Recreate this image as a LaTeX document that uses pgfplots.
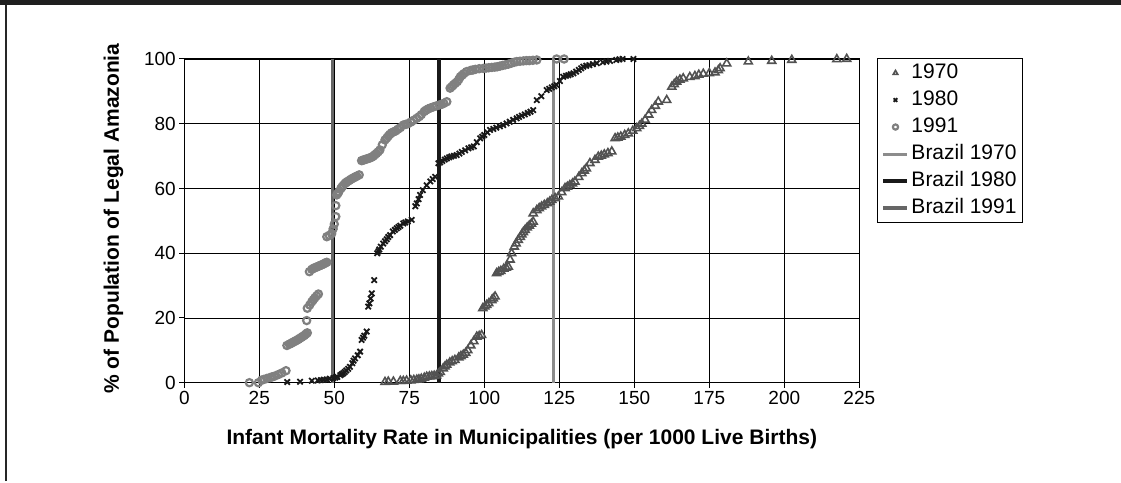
\documentclass[border=0pt]{standalone}
\usepackage{pgfplots}
\usepackage{pgfplotstable}
\pgfplotsset{compat=1.18}
\usepackage{fontspec}
\setmainfont{Liberation Sans}
\pgfplotsset{
  markleg/.style={legend image code/.code={\draw[##1] plot coordinates {(12pt,0pt)};}},
  lineleg/.style={legend image code/.code={\draw[##1] (0pt,0pt) -- (24pt,0pt);}},
}

\pgfplotstableread{
x y
66.9 0.2
68 0.3
69.7 0.3
72 0.5
73 0.5
74.1 0.6
75.5 0.7
76.5 0.8
77.5 0.9
78.2 1.0
79 1.2
80 1.5
80.8 1.8
81.7 1.9
82.5 2.0
83.3 2.1
84.1 2.2
84.7 2.8
85.3 3.3
86.3 4.4
86.9 5.0
87.5 5.5
88.5 6.2
89.3 6.6
90.2 7.0
91.5 7.8
92.2 8.2
93 8.6
93.8 9.2
94.5 10
95.5 11.5
96.5 12.8
97.5 14.2
98.3 14.4
99.1 14.7
99.5 23
100.2 23.5
100.8 24
101.5 24.5
102.5 25.5
103 26
103.6 26.6
104.1 33.8
104.8 34.2
105.5 34.5
106.5 35.2
107.3 35.5
108 35.8
108.6 38
109.1 40
110 42
110.6 43
111.3 44.1
112 45
112.5 45.8
113 46.5
113.6 47.2
114.3 47.9
115 48.5
115.7 49.1
116.3 49.7
116.3 52.3
117.5 53.3
118.3 53.9
119.1 54.4
120 54.9
121 55.4
121.8 55.9
122.5 56.4
123.6 57
124.7 57.5
125.8 58.8
126.9 60.1
127.7 60.5
128.5 61
129.4 61.5
130.2 62.1
131.5 63.5
132.5 64.7
133.3 65.5
134 66.2
135.2 67.8
136.9 68.8
138 69.8
139 70.1
140 70.5
141.2 70.9
142.5 71.4
143.6 75.5
144.5 75.7
145.5 76
146.8 76.5
148 77
149.5 77.8
150.8 78.6
151.7 79.3
152.5 80
153.6 81.2
154.8 82.8
155.8 84.2
157 85.5
158 86.8
160.8 87.3
162.5 91.4
163.3 92.2
164.1 93
165.2 93.6
166.3 94
168.5 94.4
170.2 94.7
171.5 95.1
173 95.4
175 95.6
176.9 95.8
178 96.5
178.6 97.1
180.8 98.6
188 99.2
195.8 99.4
202.5 99.7
217.5 99.9
220.8 100
}\dataA

\pgfplotstableread{
x y
34.3 0.2
38.6 0.3
42.5 0.6
44.5 0.7
45.5 0.8
46.5 0.9
47.5 1.0
48.5 1.2
49.7 1.4
50.4 1.6
51 1.8
52 2.3
52.5 2.6
53 2.9
53.5 3.3
54 3.8
54.6 4.3
55.2 4.9
56 6.0
56.4 6.8
56.9 7.5
57.8 8.5
58.6 9.6
59.1 13.2
59.6 13.9
60 14.5
60.8 15.8
61.3 23.5
61.7 24.5
62.1 26
62.5 27.6
63.3 31.7
64.3 40
64.7 40.6
65 41.2
65.5 42
66.3 43
66.9 43.7
67.5 44.3
68 45
68.6 45.6
69.5 46.7
70.2 47.2
70.8 47.7
71.4 48.1
72 48.5
73 49.2
73.7 49.5
74.5 49.8
75.8 50.3
77 54.5
77.5 55.4
78.1 56.7
78.6 58
79.5 59.5
80.8 61
82 62.2
82.8 62.9
83.6 63.6
84.7 67.8
85.3 68.1
86 68.5
86.8 68.9
87.5 69.3
88.3 69.6
89 69.9
89.9 70.1
90.8 70.3
91.7 70.8
92.5 71.3
93.6 71.8
94.7 72.4
95.6 72.7
96.5 73
97.5 74.3
98.6 75.5
99.3 76
100 76.5
101 77.3
101.9 78.1
103 78.4
104 78.8
105.2 79.2
106.3 79.6
107.4 80.1
108.5 80.6
109.6 81.2
110.8 81.7
111.6 82.1
112.5 82.5
113.5 82.9
114.5 83.3
115.4 83.7
116.3 84.2
117.5 87.3
119 88.5
120.8 90.4
121.6 90.8
122.5 91.2
123.3 91.6
124.1 92
125.2 93.2
126.3 94.5
127.2 94.8
128 95
128.8 95.3
129.7 95.6
130.6 96.1
131.5 96.6
132.3 97.1
133 97.6
134 97.9
135 98.1
136.2 98.4
137.5 98.7
139.5 99
140.7 99.2
141.9 99.4
144 99.7
145 99.9
146.1 100
149.7 100
}\dataB

\pgfplotstableread{
x y
21.7 0
24.7 0
25.8 0.8
26.5 1.0
27.5 1.3
28.6 1.6
29.3 1.8
30 2.0
31.3 2.5
32.5 3.0
33.9 3.7
34.2 11.5
35 11.9
35.5 12.1
36 12.4
36.5 12.6
37 12.9
37.5 13.1
38 13.4
38.5 13.7
39 14.0
39.5 14.3
40 14.6
40.5 15.0
41 15.4
40.8 19.2
41 23.0
41.8 24.0
42.5 25.0
43 25.6
43.5 26.2
44.1 26.8
44.7 27.4
41.7 34.3
42.5 35.0
43 35.3
43.5 35.5
44 35.7
44.5 35.9
45 36.1
45.5 36.3
46 36.5
46.5 36.7
47 37.0
47.5 37.2
47.5 45.1
48.3 45.5
49.1 46.0
49.6 47.5
50 49
50.5 51.3
50.5 54.7
50.8 58.0
51.2 58.5
51.5 59
52.2 60
52.6 60.5
53 61
53.6 61.6
54 61.9
54.5 62.2
55 62.5
55.5 62.8
56 63.1
56.5 63.3
57 63.6
57.5 63.8
58.3 64.2
59.1 68.6
59.5 68.7
60 68.9
60.5 69
61 69.2
61.5 69.3
62 69.5
62.5 69.7
63 70
63.5 70.4
64 70.8
64.6 71.3
65.2 71.9
66 73.5
66.9 75
67.5 75.6
68 76.2
68.5 76.7
69.1 77.2
69.8 77.5
70.5 77.8
71.2 78.3
72 78.8
73 79.6
73.8 79.8
74.5 80
75.5 80.5
76.5 81.1
77.5 81.7
78.3 82.2
79 82.8
80 83.8
80.6 84.2
81.3 84.6
82.1 84.9
83 85.2
84 85.5
85 85.8
85.8 86
86.5 86.3
87.5 86.8
88.6 91
89.2 91.5
89.7 92
90.3 92.5
91 93
91.5 93.7
92 94.5
92.6 95
93.2 95.5
94.1 96.1
95.5 96.5
96.2 96.6
97 96.8
98.3 97
99.7 97.1
100.6 97.2
101.5 97.3
102.5 97.4
103.5 97.5
104.3 97.6
105.2 97.8
106.1 98
107 98.2
108 98.4
109 98.7
110 99
110.8 99.2
111.9 99.3
113 99.4
114 99.5
115 99.5
116.2 99.6
117.5 99.7
124.1 100
126.6 100
}\dataC

\begin{document}
\begin{tikzpicture}
\fill[white] (0pt,0pt) rectangle (1121pt,481pt);
\fill[black!88] (0pt,476pt) rectangle (1121pt,481pt);
\draw[line width=2.2pt, black!85] (6pt,0pt) -- (6pt,476pt);
\begin{axis}[
  at={(184.3pt,98.3pt)}, anchor=south west,
  scale only axis, width=675pt, height=323.7pt,
  xmin=0, xmax=225, ymin=0, ymax=100,
  xtick={0,25,...,225}, ytick={0,20,...,100},
  xtick pos=left, ytick pos=left,
  grid=major, major grid style={black, line width=0.8pt},
  axis line style={black, line width=1.2pt},
  tick align=outside, major tick length=5pt,
  tick style={black, line width=1pt},
  tick label style={font=\fontsize{19}{22}\selectfont},
  /pgf/number format/assume math mode=true,
  xlabel={Infant Mortality Rate in Municipalities (per 1000 Live Births)},
  ylabel={\% of Population of Legal Amazonia},
  label style={font=\bfseries\fontsize{21}{24}\selectfont},
  xlabel style={at={(axis description cs:0.5,-0.174)}, anchor=center},
  ylabel style={at={(axis description cs:-0.105,0.507)}, anchor=center},
  clip=false,
  legend style={at={(axis description cs:1.0262,1.003)}, anchor=north west,
    draw=black, line width=1pt, font=\fontsize{21}{24}\selectfont,
    row sep=4pt, inner xsep=4pt, inner ysep=3pt,
    nodes={inner sep=2pt, text height=15pt, text depth=4pt},
    cells={anchor=west}},
  legend image post style={mark size=2.6pt},
]
\addplot[only marks, mark=triangle, mark size=4.6pt, draw=black!68, fill=white, line width=1.6pt, markleg] table {\dataA};
\addlegendentry{1970}
\addplot[only marks, mark=x, mark size=3.8pt, draw=black!90, line width=1.8pt, markleg] table {\dataB};
\addlegendentry{1980}
\addplot[only marks, mark=o, mark size=3.6pt, draw=black!50, fill=white, line width=2.2pt, markleg] table {\dataC};
\addlegendentry{1991}
\addplot[no marks, draw=black!45, line width=3pt, lineleg] coordinates {(123.0,0) (123.0,100)};
\addlegendentry{Brazil 1970}
\addplot[no marks, draw=black!90, line width=4pt, lineleg] coordinates {(84.8,0) (84.8,100)};
\addlegendentry{Brazil 1980}
\addplot[no marks, draw=black!60, line width=3.5pt, lineleg] coordinates {(49.4,0) (49.4,100)};
\addlegendentry{Brazil 1991}
\end{axis}
\end{tikzpicture}
\end{document}
